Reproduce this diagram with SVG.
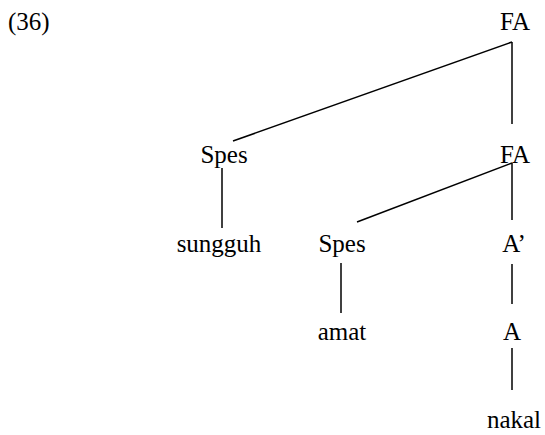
<svg xmlns="http://www.w3.org/2000/svg" width="545" height="435" viewBox="0 0 545 435">
<style>
.t{font-family:'Liberation Serif','Times New Roman','DejaVu Serif',serif;font-size:25px;fill:#000;text-anchor:middle}
line{stroke:#000;stroke-width:1.5}
</style>
<rect width="545" height="435" fill="#fff"/>
<text class="t" x="8" y="30" text-anchor="start" style="text-anchor:start">(36)</text>
<g id="connectors">
<line x1="512" y1="42" x2="512" y2="124"/>
<line x1="512" y1="42" x2="233" y2="141"/>
<line x1="222" y1="168" x2="222" y2="228"/>
<line x1="512" y1="163" x2="357" y2="222"/>
<line x1="512" y1="163" x2="512" y2="220"/>
<line x1="341" y1="263" x2="341" y2="313"/>
<line x1="512" y1="264" x2="512" y2="304"/>
<line x1="512" y1="348" x2="512" y2="390"/>
</g>
<g id="fa1"><text class="t" x="515" y="30">FA</text></g>
<g id="spes1"><text class="t" x="224" y="163">Spes</text></g>
<g id="fa2"><text class="t" x="515" y="163">FA</text></g>
<g id="sungguh"><text class="t" x="219" y="252">sungguh</text></g>
<g id="spes2"><text class="t" x="342" y="252">Spes</text></g>
<g id="abar"><text class="t" x="514" y="252">A’</text></g>
<g id="amat"><text class="t" x="342" y="340">amat</text></g>
<g id="a"><text class="t" x="512" y="340">A</text></g>
<g id="nakal"><text class="t" x="514" y="428">nakal</text></g>
</svg>
